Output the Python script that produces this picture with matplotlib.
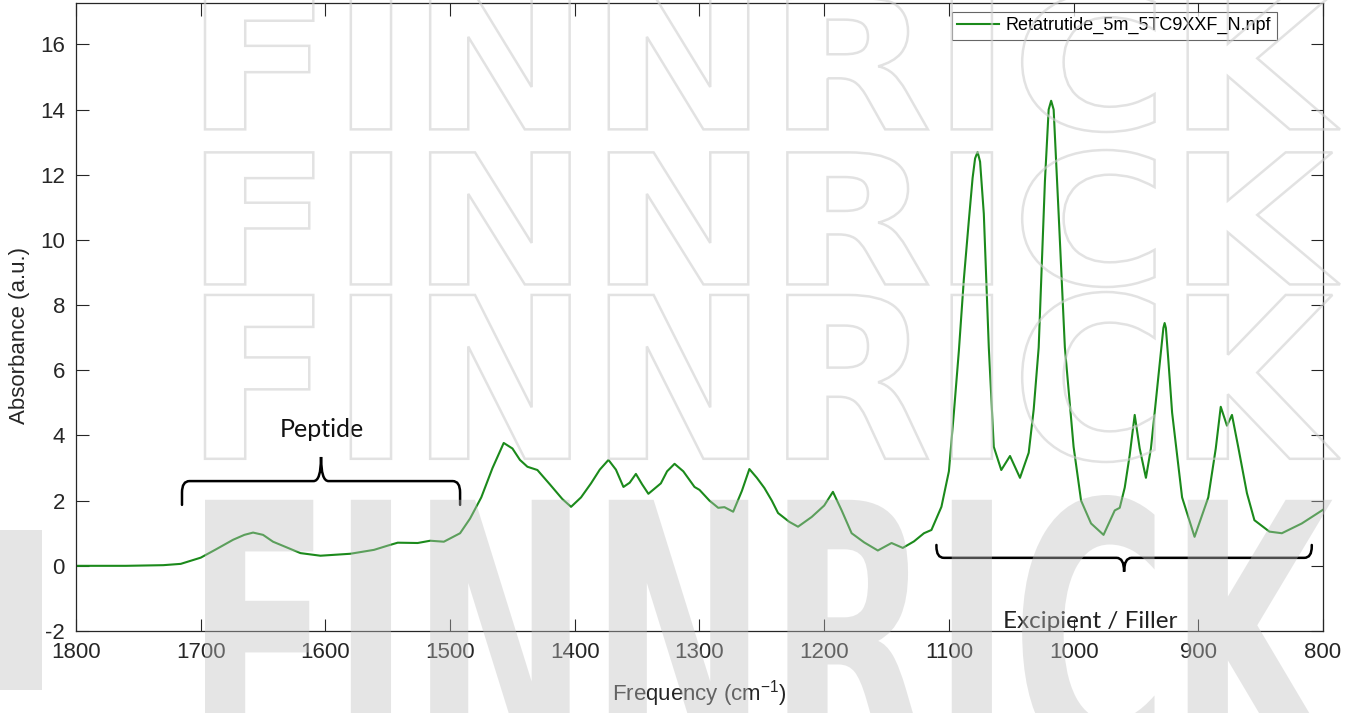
import numpy as np
import matplotlib
matplotlib.use('Agg')
import matplotlib.pyplot as plt
from matplotlib.path import Path
from matplotlib.patches import PathPatch, Rectangle
from matplotlib.textpath import TextPath
from matplotlib.font_manager import FontProperties
from matplotlib.transforms import Affine2D

# spectrum (cm-1, a.u.)
wavenumber = [1800, 1760, 1730, 1716, 1700, 1688, 1674, 1665, 1658, 1650,
              1642, 1630, 1620, 1604, 1580, 1561, 1550, 1542, 1526, 1516,
              1505, 1492, 1484, 1475, 1466, 1457, 1450, 1444, 1438, 1430,
              1420, 1410, 1403, 1395, 1387, 1380, 1373, 1367, 1361, 1356,
              1351, 1346, 1341, 1331, 1326, 1320, 1313, 1304, 1300, 1292,
              1285, 1280, 1273, 1266, 1260, 1254, 1248, 1242, 1237, 1228,
              1221, 1210, 1200, 1193, 1186, 1178, 1168, 1157, 1146, 1137,
              1128, 1120, 1114, 1106, 1100, 1096, 1092, 1088, 1084, 1081,
              1079, 1077, 1075, 1072, 1068, 1064, 1058, 1051, 1043, 1036,
              1032, 1028, 1023, 1020, 1018, 1016, 1012, 1007, 1000, 994,
              986, 976, 967, 963, 959, 955, 951, 947, 942, 938,
              935, 931, 928, 927, 926, 924, 921, 913, 903, 892,
              886, 882, 877, 873, 868, 861, 855, 843, 833, 817,
              800]
absorbance = [0.0, 0.0, 0.02, 0.06, 0.25, 0.5, 0.8, 0.95, 1.02, 0.95,
              0.74, 0.55, 0.39, 0.31, 0.37, 0.49, 0.62, 0.71, 0.70, 0.77,
              0.74, 1.0, 1.45, 2.1, 3.0, 3.77, 3.6, 3.25, 3.04, 2.94,
              2.5, 2.05, 1.81, 2.1, 2.53, 2.95, 3.25, 2.95, 2.42, 2.55,
              2.82, 2.5, 2.21, 2.53, 2.9, 3.13, 2.9, 2.42, 2.33, 2.0,
              1.78, 1.8, 1.66, 2.3, 2.97, 2.7, 2.39, 2.0, 1.62, 1.35,
              1.2, 1.5, 1.85, 2.27, 1.7, 1.0, 0.72, 0.47, 0.7, 0.55,
              0.75, 1.0, 1.1, 1.81, 2.9, 4.7, 6.6, 8.8, 10.6, 11.9,
              12.5, 12.7, 12.4, 10.8, 6.7, 3.65, 2.94, 3.37, 2.7, 3.47,
              4.8, 6.7, 11.8, 14.0, 14.27, 14.0, 10.8, 6.7, 3.65, 2.0,
              1.3, 0.95, 1.7, 1.78, 2.4, 3.4, 4.63, 3.6, 2.7, 3.6,
              4.7, 6.2, 7.3, 7.45, 7.3, 6.3, 4.7, 2.1, 0.89, 2.1,
              3.6, 4.88, 4.3, 4.63, 3.65, 2.23, 1.4, 1.05, 1.0, 1.3,
              1.72]
series_name = 'Retatrutide_5m_5TC9XXF_N.npf'
xticks = [1800, 1700, 1600, 1500, 1400, 1300, 1200, 1100, 1000, 900, 800]
yticks = [-2, 0, 2, 4, 6, 8, 10, 12, 14, 16]

W, H = 1355, 713
plt.rcParams['font.family'] = ['Liberation Sans', 'DejaVu Sans']
plt.rcParams['axes.unicode_minus'] = False
plt.rcParams['mathtext.fontset'] = 'custom'
plt.rcParams['mathtext.rm'] = 'Liberation Sans'
fig = plt.figure(figsize=(W / 100, H / 100), dpi=100)
ax = fig.add_axes([76 / W, 1 - 631 / H, (1323 - 76) / W, (631 - 3) / H])

ax.plot(wavenumber, absorbance, color='#1b8a1b', lw=1.5, label=series_name)
ax.set_xlim(1800, 800)
ax.set_ylim(-2, 17.27)
ax.set_xticks(xticks)
ax.set_yticks(yticks)
ax.tick_params(direction='in', length=9, width=0.8, top=True, right=True,
               labelsize=16, colors='#262626', pad=8)
for sp in ax.spines.values():
	sp.set_color('#262626')
	sp.set_linewidth(0.9)
ax.set_xlabel('Frequency (cm$^{\\mathrm{-1}}$)', fontsize=16, color='#262626')
ax.set_ylabel('Absorbance (a.u.)', fontsize=16, color='#262626')
ax.xaxis.set_label_coords(0.5, -0.075)
ax.yaxis.set_label_coords(-0.037, 0.47)

leg = ax.legend(loc='upper right', bbox_to_anchor=(0.963, 0.986), fontsize=13,
                handlelength=2.3, fancybox=False, borderpad=0.3,
                handletextpad=0.4, borderaxespad=0)
leg.get_frame().set_edgecolor('#404040')
leg.get_frame().set_linewidth(0.8)


def brace(x0, x1, ybase, yend, ytip, r=6):
	d = 1 if x1 > x0 else -1
	xc = (x0 + x1) / 2
	k = 0.35 * np.sign(yend - ybase)
	verts = [(x0, yend), (x0, ybase + k), (x0, ybase), (x0 + d * r, ybase),
	         (xc - d * r, ybase), (xc, ybase), (xc, ytip),
	         (xc, ybase), (xc + d * r, ybase),
	         (x1 - d * r, ybase), (x1, ybase), (x1, ybase + k), (x1, yend)]
	codes = [Path.MOVETO, Path.LINETO, Path.CURVE3, Path.CURVE3,
	         Path.LINETO, Path.CURVE3, Path.CURVE3,
	         Path.CURVE3, Path.CURVE3,
	         Path.LINETO, Path.CURVE3, Path.CURVE3, Path.LINETO]
	ax.add_patch(PathPatch(Path(verts, codes), fill=False, lw=1.8,
	                       edgecolor='black', capstyle='round'))


brace(1715, 1492, 2.6, 1.87, 3.34)
ax.text(1603, 4.17, 'Peptide', fontsize=18, family='Lato', ha='center',
        va='center', color='#111111')
brace(1110, 809, 0.245, 0.64, -0.18)
ax.text(987, -1.72, 'Excipient / Filler', fontsize=17.5, family='Lato',
        ha='center', va='center', color='#222222')

# watermark
fp = FontProperties(family='DejaVu Sans', weight='bold', stretch='condensed')
tp = TextPath((0, 0), 'FINNRICK', size=100, prop=fp)
ext = tp.get_extents()


def wordmark(x0, x1, top, bottom, **kw):
	fx0, fx1 = x0 / W, x1 / W
	fyt, fyb = 1 - top / H, 1 - bottom / H
	tr = Affine2D().translate(-ext.x0, -ext.y0).scale(
	    (fx1 - fx0) / ext.width, (fyt - fyb) / ext.height).translate(fx0, fyb)
	p = PathPatch(tp, transform=tr + fig.transFigure, zorder=20, **kw)
	fig.add_artist(p)


outline = dict(facecolor='none', edgecolor='#cfcfcf', lw=1.8, alpha=0.6)
wordmark(205, 1340, -8, 132, **outline)
wordmark(205, 1340, 150, 287, **outline)
wordmark(205, 1340, 292, 462, **outline)
wordmark(205, 1340, 495, 770, facecolor='#c0c0c0', edgecolor='none', alpha=0.4)
fig.add_artist(Rectangle((0, 1 - 690 / H), 42 / W, 160 / H,
                         transform=fig.transFigure, facecolor='#c0c0c0',
                         edgecolor='none', alpha=0.4, zorder=20))

fig.savefig('out.png', dpi=100)
